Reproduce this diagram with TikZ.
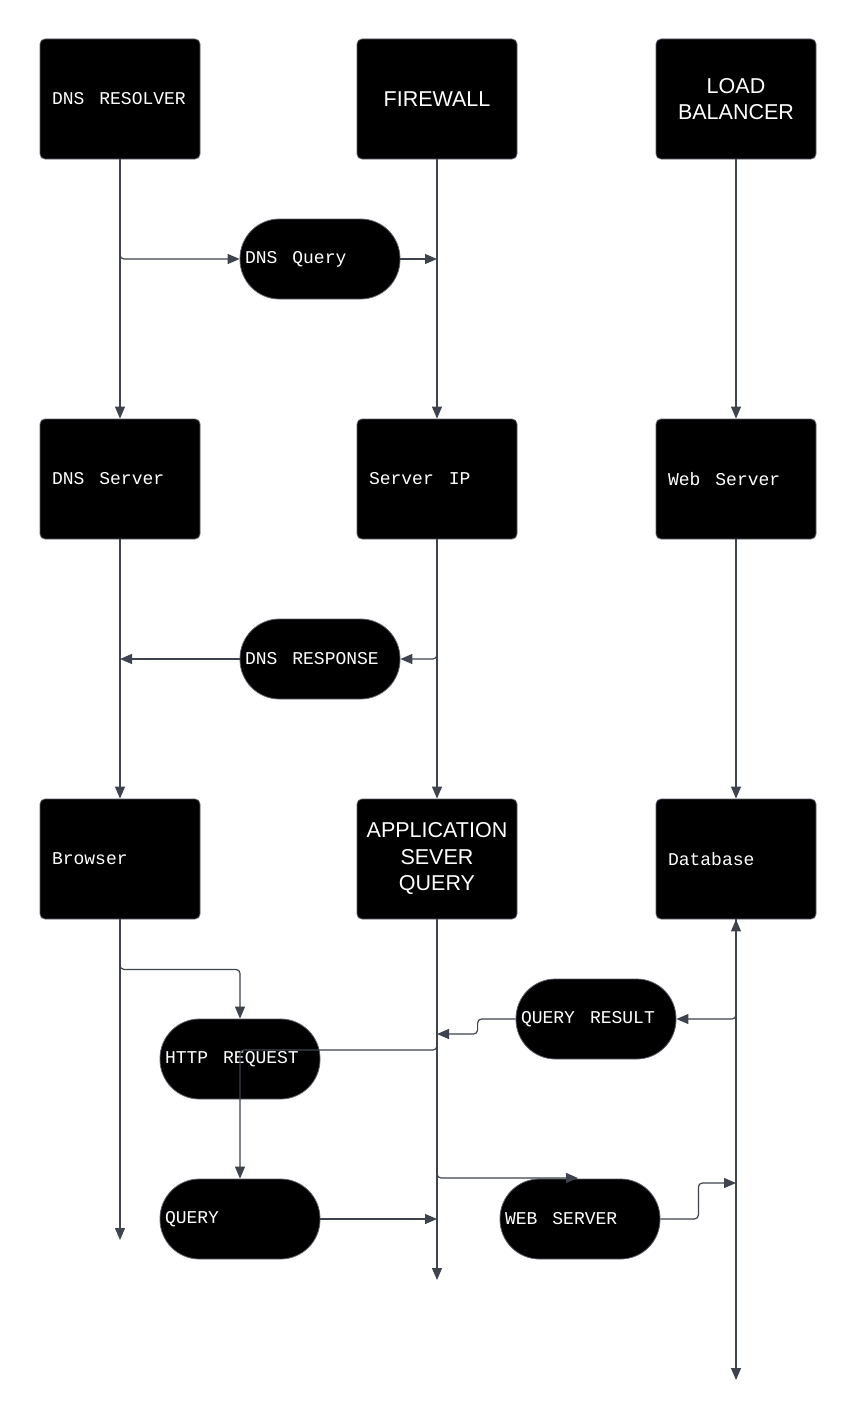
\documentclass[tikz,border=0pt]{standalone}
\usepackage{fontspec}
\setmainfont{Liberation Sans}
\newfontfamily\monof{Liberation Mono}
\usetikzlibrary{arrows.meta}
\definecolor{linec}{RGB}{62,67,78}
\definecolor{edgec}{RGB}{90,95,105}
\newcommand{\monotext}{\monof\fontsize{18}{21}\selectfont}
\tikzset{
  boxl/.style={rectangle, fill=black, draw=edgec, line width=0.8pt, rounded corners=5pt,
    minimum height=120pt, inner xsep=12pt, inner ysep=0pt, text width=136pt, align=left,
    text=white, font=\monotext, execute at begin node={\spaceskip=15pt\relax}},
  boxc/.style={rectangle, fill=black, draw=edgec, line width=0.8pt, rounded corners=5pt,
    minimum height=120pt, inner xsep=6pt, inner ysep=0pt, text width=148pt, align=center,
    text=white, font=\fontsize{21.5}{26.5}\selectfont},
  pill/.style={rectangle, fill=black, draw=edgec, line width=0.8pt, rounded corners=39.5pt,
    minimum height=80pt, inner xsep=5pt, inner ysep=0pt, text width=150pt, align=left,
    text=white, font=\monotext, execute at begin node={\spaceskip=15pt\relax}},
  conn/.style={draw=linec, line width=1.2pt, rounded corners=4pt,
    -{Triangle[length=12pt,width=10pt]}},
}
\begin{document}
\begin{tikzpicture}[x=1pt,y=-1pt]
\path[use as bounding box, fill=white] (0,0) rectangle (857,1418);
% boxes
\node[boxl] (res) at (120,99) {DNS RESOLVER};
\node[boxc] (fw) at (437,99) {FIREWALL};
\node[boxc] (lb) at (736,99) {LOAD\\BALANCER};
\node[boxl] (dnss) at (120,479) {DNS Server};
\node[boxl] (sip) at (437,479) {Server IP};
\node[boxl] (ws) at (736,479) {Web Server};
\node[boxl] (br) at (120,859) {Browser};
\node[boxc] (app) at (437,859) {APPLICATION\\SEVER\\QUERY};
\node[boxl] (db) at (736,859) {Database};
% pills
\node[pill] (dq) at (320,259) {DNS Query};
\node[pill] (dr) at (320,659) {DNS RESPONSE};
\node[pill] (qr) at (596,1019) {QUERY RESULT};
\node[pill] (http) at (240,1059) {HTTP REQUEST};
\node[pill] (q) at (240,1219) {QUERY};
\node[pill] (wsp) at (580,1219) {WEB SERVER};
% free ends
\coordinate (brend) at (120,1240);
\coordinate (append) at (437,1280);
\coordinate (wsin) at (578,1178);
\coordinate (hj) at (240,1050);
\coordinate (dbqr) at (736,1019);
\coordinate (dbend) at (736,1380);
\coordinate (qrin) at (437,1034);
\coordinate (wsout) at (736,1183);
% connectors
\draw[conn] (res.south) |- (dq.west);
\draw[conn] (res.south) -- (dnss.north);
\draw[conn] (dq.east) -- (dq.east -| fw.south);
\draw[conn] (fw.south) -- (sip.north);
\draw[conn] (lb.south) -- (ws.north);
\draw[conn] (dnss.south) -- (br.north);
\draw[conn] (sip.south) |- (dr.east);
\draw[conn] (dr.west) -- (dr.west -| dnss.south);
\draw[conn] (sip.south) -- (app.north);
\draw[conn] (ws.south) -- (db.north);
\draw[conn] (br.south) -- ++(0,50) -| (http.north);
\draw[conn] (br.south) -- (brend);
\draw[conn] (app.south) -- (append);
\draw[conn] (app.south) |- (wsin);
\draw[conn] (app.south) |- (hj) -- (q.north);
\draw[conn] (db.south) |- (qr.east);
\draw[conn] (dbqr) -- (db.south);
\draw[conn] (db.south) -- (dbend);
\draw[conn] (qr.west) -- ++(-38,0) |- (qrin);
\draw[conn] (q.east) -- (q.east -| app.south);
\draw[conn] (wsp.east) -- ++(38,0) |- (wsout);
\end{tikzpicture}
\end{document}
